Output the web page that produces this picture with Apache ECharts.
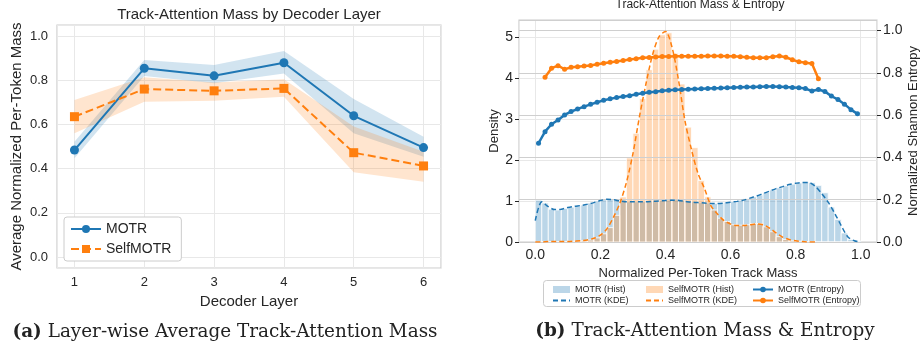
<!DOCTYPE html>
<html>
<head>
<meta charset="utf-8">
<script src="https://cdn.jsdelivr.net/npm/echarts@6/dist/echarts.min.js"></script>
<style>
html, body { margin: 0; padding: 0; background: #fff; }
#chart { width: 921px; height: 345px; }
</style>
</head>
<body>
<div id="chart"></div>
<script>
// (a) layer-wise mean mass, with the shaded spread
const layers = [1, 2, 3, 4, 5, 6];
const motrMean = [0.484, 0.854, 0.820, 0.879, 0.639, 0.495];
const motrLo = [0.447, 0.819, 0.786, 0.830, 0.560, 0.454];
const motrHi = [0.522, 0.891, 0.869, 0.932, 0.715, 0.544];
const selfMean = [0.635, 0.760, 0.752, 0.763, 0.472, 0.412];
const selfLo = [0.560, 0.703, 0.707, 0.725, 0.383, 0.340];
const selfHi = [0.710, 0.813, 0.790, 0.804, 0.590, 0.476];

// (b) histogram bins (width 0.02), density per bin
const binWidth = 0.02;
const binCenters = [0.01, 0.03, 0.05, 0.07, 0.09, 0.11, 0.13, 0.15, 0.17, 0.19,
  0.21, 0.23, 0.25, 0.27, 0.29, 0.31, 0.33, 0.35, 0.37, 0.39,
  0.41, 0.43, 0.45, 0.47, 0.49, 0.51, 0.53, 0.55, 0.57, 0.59,
  0.61, 0.63, 0.65, 0.67, 0.69, 0.71, 0.73, 0.75, 0.77, 0.79,
  0.81, 0.83, 0.85, 0.87, 0.89, 0.91, 0.93, 0.95, 0.97, 0.99];
const motrHist = [1.02, 0.95, 0.80, 0.78, 0.82, 0.85, 0.88, 0.90, 0.95, 1.00,
  1.03, 1.05, 1.02, 1.00, 0.98, 0.98, 0.99, 1.00, 1.00, 1.01,
  1.02, 1.03, 1.02, 1.00, 0.98, 0.96, 0.95, 0.94, 0.95, 0.97,
  0.99, 1.02, 1.06, 1.10, 1.15, 1.21, 1.27, 1.32, 1.37, 1.41,
  1.44, 1.46, 1.45, 1.38, 1.20, 0.85, 0.55, 0.22, 0.06, 0.02];
const selfHist = [0.00, 0.01, 0.01, 0.01, 0.01, 0.02, 0.02, 0.03, 0.05, 0.10,
  0.20, 0.35, 0.65, 1.10, 2.05, 2.65, 3.50, 4.20, 4.70, 5.05,
  5.10, 4.60, 3.85, 2.80, 2.30, 1.50, 1.10, 0.78, 0.58, 0.50,
  0.42, 0.41, 0.42, 0.45, 0.45, 0.37, 0.25, 0.13, 0.06, 0.03,
  0.02, 0.01, 0.01, 0.00, 0.00, 0.00, 0.00, 0.00, 0.00, 0.00];

// KDE curves
const kdeX = [0.00, 0.02, 0.04, 0.06, 0.08, 0.10, 0.12, 0.14, 0.16, 0.18,
  0.20, 0.22, 0.24, 0.26, 0.28, 0.30, 0.32, 0.34, 0.36, 0.38,
  0.40, 0.42, 0.44, 0.46, 0.48, 0.50, 0.52, 0.54, 0.56, 0.58,
  0.60, 0.62, 0.64, 0.66, 0.68, 0.70, 0.72, 0.74, 0.76, 0.78,
  0.80, 0.82, 0.84, 0.86, 0.88, 0.90, 0.92, 0.94, 0.96, 0.98, 1.00];
const motrKde = [0.52, 0.98, 0.86, 0.79, 0.80, 0.84, 0.87, 0.89, 0.92, 0.96,
  1.01, 1.04, 1.03, 1.00, 0.98, 0.98, 0.98, 0.98, 0.99, 1.00,
  1.01, 1.02, 1.01, 0.99, 0.97, 0.96, 0.95, 0.94, 0.94, 0.95,
  0.97, 0.99, 1.02, 1.07, 1.12, 1.18, 1.24, 1.30, 1.35, 1.40,
  1.43, 1.45, 1.45, 1.36, 1.18, 0.97, 0.70, 0.40, 0.13, 0.03, 0.00];
const selfKde = [0.00, 0.00, 0.01, 0.01, 0.01, 0.01, 0.02, 0.03, 0.05, 0.09,
  0.17, 0.32, 0.60, 0.95, 1.45, 2.15, 3.05, 3.85, 4.55, 5.00,
  5.13, 4.75, 3.95, 2.95, 2.25, 1.67, 1.30, 0.88, 0.68, 0.52,
  0.44, 0.40, 0.40, 0.42, 0.44, 0.42, 0.34, 0.22, 0.12, 0.06,
  0.03, 0.01, 0.00, 0.00];

// normalized entropy per bin (right axis)
const motrEntropy = [0.467, 0.522, 0.557, 0.577, 0.601, 0.617, 0.629, 0.640, 0.651, 0.661,
  0.670, 0.677, 0.683, 0.688, 0.692, 0.699, 0.704, 0.708, 0.711, 0.715,
  0.718, 0.720, 0.721, 0.723, 0.724, 0.725, 0.726, 0.727, 0.728, 0.730,
  0.731, 0.732, 0.733, 0.733, 0.734, 0.735, 0.735, 0.734, 0.733, 0.731,
  0.729, 0.726, 0.714, 0.721, 0.712, 0.690, 0.674, 0.652, 0.626, 0.606];
// SelfMOTR entropy starts at the second bin
const selfEntropy = [0.779, 0.822, 0.834, 0.817, 0.826, 0.829, 0.832, 0.835, 0.841,
  0.845, 0.850, 0.854, 0.858, 0.863, 0.867, 0.871, 0.873, 0.875, 0.877,
  0.877, 0.878, 0.878, 0.878, 0.879, 0.879, 0.880, 0.880, 0.880, 0.879,
  0.878, 0.876, 0.874, 0.872, 0.871, 0.872, 0.876, 0.880, 0.874, 0.862,
  0.852, 0.848, 0.844, 0.772];

const BLUE = '#1f77b4';
const ORANGE = '#ff7f0e';
const INK = '#262626';
const FONT = 'Liberation Sans, Arial, sans-serif';
const SERIF = '"DejaVu Serif", serif';

const chart = echarts.init(document.getElementById('chart'), null, { renderer: 'canvas' });

function pairs(xs, ys) {
  return ys.map((v, i) => [xs[i], v]);
}

// shaded band between lo and hi, one polygon through the axis scale
function bandSeries(lo, hi, fill) {
  return {
    type: 'custom',
    xAxisIndex: 0,
    yAxisIndex: 0,
    silent: true,
    z: 1,
    encode: { x: 0, y: [1, 2] },
    data: layers.map((x, i) => [x, lo[i], hi[i]]),
    renderItem: function (params, api) {
      if (params.dataIndex !== 0) return null;
      const pts = [];
      for (let i = 0; i < layers.length; i++) pts.push(api.coord([layers[i], hi[i]]));
      for (let i = layers.length - 1; i >= 0; i--) pts.push(api.coord([layers[i], lo[i]]));
      return { type: 'polygon', shape: { points: pts }, style: { fill: fill } };
    }
  };
}

function histData(h) {
  return h.map((v, i) => [binCenters[i] - binWidth / 2, binCenters[i] + binWidth / 2, v]);
}
function histSeries(name, h, fill) {
  return {
    name: name,
    type: 'custom',
    xAxisIndex: 1,
    yAxisIndex: 1,
    itemStyle: { color: fill },
    encode: { x: [0, 1], y: 2 },
    data: histData(h),
    z: 1,
    renderItem: function (params, api) {
      const top = api.coord([api.value(0), api.value(2)]);
      const base = api.coord([api.value(1), 0]);
      return {
        type: 'rect',
        shape: { x: top[0], y: top[1], width: base[0] - top[0], height: base[1] - top[1] },
        style: { fill: fill, stroke: '#fff', lineWidth: 0.8 }
      };
    }
  };
}

const lightGrid = { show: true, lineStyle: { color: '#e8e8e8', width: 1 } };
const tick1 = v => v.toFixed(1);
const outTick = { show: true, inside: false, length: 4, lineStyle: { color: INK, width: 1 } };

const option = {
  animation: false,
  backgroundColor: '#fff',
  textStyle: { fontFamily: FONT, color: INK },
  title: [
    { text: 'Track-Attention Mass by Decoder Layer', left: 249, top: 7, padding: 0, textAlign: 'center',
      textStyle: { fontSize: 15, fontWeight: 'normal', color: INK, fontFamily: FONT } },
    { text: 'Track-Attention Mass & Entropy', left: 700, top: -1, padding: 0, textAlign: 'center',
      textStyle: { fontSize: 12, fontWeight: 'normal', color: INK, fontFamily: FONT } }
  ],
  grid: [
    { left: 57, top: 25, width: 384, height: 243, show: true, borderColor: '#cccccc', borderWidth: 1.2, backgroundColor: 'transparent' },
    { left: 519, top: 20, width: 361, height: 222, show: true, borderColor: '#cccccc', borderWidth: 1.2, backgroundColor: 'transparent' }
  ],
  legend: [
    { left: 64, top: 217, orient: 'vertical', itemGap: 6, itemWidth: 30, itemHeight: 10,
      padding: [5, 10, 5, 6], backgroundColor: '#fff', borderColor: '#cccccc', borderWidth: 1, borderRadius: 3,
      textStyle: { fontSize: 14, color: INK, fontFamily: FONT },
      data: ['MOTR', 'SelfMOTR'] },
    { left: 547, top: 280, orient: 'vertical', itemGap: 2, itemWidth: 17, itemHeight: 7,
      textStyle: { fontSize: 9, color: INK, fontFamily: FONT },
      data: [{ name: 'MOTR (Hist)', icon: 'rect' }, { name: 'MOTR (KDE)', itemStyle: { opacity: 0 } }] },
    { left: 640, top: 280, orient: 'vertical', itemGap: 2, itemWidth: 17, itemHeight: 7,
      textStyle: { fontSize: 9, color: INK, fontFamily: FONT },
      data: [{ name: 'SelfMOTR (Hist)', icon: 'rect' }, { name: 'SelfMOTR (KDE)', itemStyle: { opacity: 0 } }] },
    { left: 747, top: 280, orient: 'vertical', itemGap: 2, itemWidth: 20, itemHeight: 7,
      textStyle: { fontSize: 9, color: INK, fontFamily: FONT },
      data: ['MOTR (Entropy)', 'SelfMOTR (Entropy)'] }
  ],
  xAxis: [
    { type: 'value', gridIndex: 0, min: 0.75, max: 6.25, splitNumber: 5,
      name: 'Decoder Layer', nameLocation: 'middle', nameGap: 23,
      nameTextStyle: { fontSize: 15, color: INK },
      axisLine: { show: false }, axisTick: { show: false },
      axisLabel: { fontSize: 13, color: INK, margin: 8, showMinLabel: false, showMaxLabel: false },
      splitLine: lightGrid },
    { type: 'value', gridIndex: 1, min: -0.05, max: 1.05, splitNumber: 5,
      name: 'Normalized Per-Token Track Mass', nameLocation: 'middle', nameGap: 16,
      nameTextStyle: { fontSize: 13, color: INK },
      axisLine: { show: false }, axisTick: { show: false },
      axisLabel: { fontSize: 14, color: INK, margin: 6, formatter: tick1, showMinLabel: false, showMaxLabel: false },
      splitLine: lightGrid }
  ],
  yAxis: [
    { type: 'value', gridIndex: 0, min: -0.05, max: 1.05, splitNumber: 5,
      name: 'Average Normalized Per-Token Mass', nameLocation: 'middle', nameGap: 33, nameRotate: 90,
      nameTextStyle: { fontSize: 15, color: INK },
      axisLine: { show: false }, axisTick: { show: false },
      axisLabel: { fontSize: 13, color: INK, margin: 9, formatter: tick1, showMinLabel: false, showMaxLabel: false },
      splitLine: lightGrid },
    { type: 'value', gridIndex: 1, position: 'left', min: 0, max: 5.41, interval: 1,
      name: 'Density', nameLocation: 'middle', nameGap: 18, nameRotate: 90,
      nameTextStyle: { fontSize: 13, color: INK },
      axisLine: { show: false, onZero: false }, axisTick: outTick,
      axisLabel: { fontSize: 14, color: INK, margin: 6, showMaxLabel: false },
      splitLine: lightGrid },
    { type: 'value', gridIndex: 1, position: 'right', min: 0, max: 1.05, interval: 0.2, z: 3,
      name: 'Normalized Shannon Entropy', nameLocation: 'middle', nameGap: 30, nameRotate: 90,
      nameTextStyle: { fontSize: 13, color: INK },
      axisLine: { show: false, onZero: false }, axisTick: outTick,
      axisLabel: { fontSize: 14, color: INK, margin: 6, formatter: tick1, showMaxLabel: false },
      splitLine: { show: true, lineStyle: { color: '#cfcfcf', width: 1.2 } } }
  ],
  series: [
    // (a) shaded spreads
    bandSeries(motrLo, motrHi, 'rgba(31,119,180,0.2)'),
    bandSeries(selfLo, selfHi, 'rgba(255,127,14,0.2)'),
    // (a) means
    { name: 'MOTR', type: 'line', xAxisIndex: 0, yAxisIndex: 0, symbol: 'circle', symbolSize: 9,
      itemStyle: { color: BLUE }, lineStyle: { color: BLUE, width: 2 },
      data: pairs(layers, motrMean), z: 5 },
    { name: 'SelfMOTR', type: 'line', xAxisIndex: 0, yAxisIndex: 0, symbol: 'rect', symbolSize: 9,
      itemStyle: { color: ORANGE }, lineStyle: { color: ORANGE, width: 2, type: [8, 4] },
      data: pairs(layers, selfMean), z: 5 },
    // (b) histograms
    histSeries('MOTR (Hist)', motrHist, 'rgba(31,119,180,0.3)'),
    histSeries('SelfMOTR (Hist)', selfHist, 'rgba(255,127,14,0.3)'),
    // (b) KDE
    { name: 'MOTR (KDE)', type: 'line', xAxisIndex: 1, yAxisIndex: 1, symbol: 'none', smooth: 0.3,
      itemStyle: { color: BLUE }, lineStyle: { color: BLUE, width: 1.5, type: [5, 3] },
      data: pairs(kdeX, motrKde), z: 4 },
    { name: 'SelfMOTR (KDE)', type: 'line', xAxisIndex: 1, yAxisIndex: 1, symbol: 'none', smooth: 0.3,
      itemStyle: { color: ORANGE }, lineStyle: { color: ORANGE, width: 1.5, type: [5, 3] },
      data: pairs(kdeX, selfKde), z: 4 },
    // (b) entropy on right axis
    { name: 'MOTR (Entropy)', type: 'line', xAxisIndex: 1, yAxisIndex: 2, symbol: 'circle', symbolSize: 5,
      itemStyle: { color: BLUE }, lineStyle: { color: BLUE, width: 2.5 },
      data: pairs(binCenters, motrEntropy), z: 6 },
    { name: 'SelfMOTR (Entropy)', type: 'line', xAxisIndex: 1, yAxisIndex: 2, symbol: 'circle', symbolSize: 5,
      itemStyle: { color: ORANGE }, lineStyle: { color: ORANGE, width: 2.5 },
      data: pairs(binCenters.slice(1), selfEntropy), z: 6 }
  ],
  graphic: [
    { type: 'rect', left: 543, top: 280, z: 0,
      shape: { width: 317, height: 26, r: 3 },
      style: { fill: '#fff', stroke: '#cccccc', lineWidth: 1 } },
    { type: 'text', x: 225, y: 332,
      style: { text: '{b|(a)} Layer-wise Average Track-Attention Mass', align: 'center', verticalAlign: 'middle',
        font: '18.4px ' + SERIF, fill: '#222',
        rich: { b: { fontWeight: 'bold', fontFamily: SERIF, fontSize: 18.4 } } } },
    { type: 'text', x: 705, y: 331,
      style: { text: '{b|(b)} Track-Attention Mass & Entropy', align: 'center', verticalAlign: 'middle',
        font: '18.4px ' + SERIF, fill: '#222',
        rich: { b: { fontWeight: 'bold', fontFamily: SERIF, fontSize: 18.4 } } } }
  ]
};

chart.setOption(option);
</script>
</body>
</html>
